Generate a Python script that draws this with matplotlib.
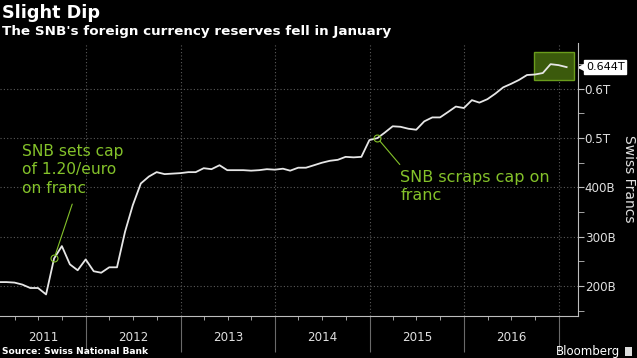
# Slight Dip: SNB foreign currency reserves

import pandas as pd
import matplotlib.pyplot as plt
import matplotlib.dates as mdates
import matplotlib.transforms as mtransforms
from matplotlib.patches import Rectangle

months = pd.date_range('2011-01-31', '2017-01-31', freq='ME')
reserves = [
    208, 208, 207, 203, 196, 196, 183, 256, 281, 244, 232, 254,   # 2011
    230, 227, 238, 238, 310, 364, 408, 422, 431, 427, 428, 429,   # 2012
    431, 431, 439, 437, 445, 435, 435, 435, 434, 435, 437, 436,   # 2013
    438, 434, 440, 440, 445, 450, 454, 456, 462, 461, 462, 496,   # 2014
    500, 511, 524, 523, 519, 517, 534, 542, 542, 553, 564, 561,   # 2015
    577, 572, 579, 590, 603, 610, 618, 628, 629, 632, 650, 648,   # 2016
    644,                                                          # 2017
]
y_ticks = [200, 300, 400, 500, 600]
y_tick_labels = ['200B', '300B', '400B', '0.5T', '0.6T']
years = [2011, 2012, 2013, 2014, 2015, 2016]

GREEN = '#84c22a'
GRID = '#5a5a5a'


def plot():
    fig = plt.figure(figsize=(6.37, 3.58), dpi=100, facecolor='black')
    ax = fig.add_axes([0.0, 0.117, 0.907, 0.763], facecolor='black')

    ax.plot(months, reserves, color='#e6e6e6', lw=1.3, zorder=3)

    x_left = pd.Timestamp('2011-02-03')
    x_right = pd.Timestamp('2017-03-15')
    ax.set_xlim(x_left, x_right)
    ax.set_ylim(139, 693)

    # spines
    for side in ['top', 'left']:
        ax.spines[side].set_visible(False)
    for side in ['right', 'bottom']:
        ax.spines[side].set_color('#bdbdbd')
        ax.spines[side].set_linewidth(0.8)

    # y axis on the right
    ax.yaxis.tick_right()
    ax.set_yticks(y_ticks)
    ax.set_yticklabels(y_tick_labels)
    ax.set_yticks([150, 250, 350, 450, 550, 650], minor=True)
    ax.tick_params(axis='y', which='both', colors='#bdbdbd', length=4,
                   labelcolor='#e0e0e0', labelsize=8.6, pad=1)
    ax.grid(axis='y', which='major', color=GRID, ls=(0, (1, 2)), lw=0.8)

    # x axis: year separators, quarterly minor ticks
    year_starts = [pd.Timestamp(f'{y}-01-01') for y in years[1:] + [2017]]
    ax.set_xticks(year_starts)
    ax.set_xticklabels([])
    quarters = [pd.Timestamp(f'{y}-{m:02d}-01') for y in years + [2017]
                for m in (1, 4, 7, 10)]
    quarters = [q for q in quarters if x_left < q < x_right and q.month != 1]
    ax.set_xticks(quarters, minor=True)
    ax.tick_params(axis='x', which='major', length=26, color='#6a6a6a',
                   width=0.8)
    ax.tick_params(axis='x', which='minor', length=3, color='#bdbdbd')
    ax.grid(axis='x', which='major', color=GRID, ls=(0, (1, 2)), lw=0.8)

    trans = mtransforms.blended_transform_factory(ax.transData, ax.transAxes)
    for y in years:
        start = max(pd.Timestamp(f'{y}-01-01'), x_left)
        end = pd.Timestamp(f'{y + 1}-01-01')
        mid = start + (end - start) / 2
        ax.text(mid, -0.08, str(y), transform=trans, ha='center',
                va='center', color='#e0e0e0', fontsize=8.6)

    # highlight of the latest readings
    x0 = mdates.date2num(pd.Timestamp('2016-09-26'))
    x1 = mdates.date2num(pd.Timestamp('2017-02-27'))
    ax.add_patch(Rectangle((x0, 617), x1 - x0, 58, facecolor='#3b5a0c',
                           edgecolor='#6a9c1c', lw=1.0, zorder=2))

    # last value tag
    trans_y = mtransforms.blended_transform_factory(ax.transAxes, ax.transData)
    ax.text(1.014, reserves[-1], f'{reserves[-1] / 1000:.3f}T',
            transform=trans_y, ha='left', va='center', color='black',
            fontsize=8, clip_on=False,
            bbox=dict(boxstyle='square,pad=0.15', facecolor='white',
                      edgecolor='white'))
    ax.plot([1.008], [reserves[-1]], marker='<', color='white', ms=6,
            transform=trans_y, clip_on=False)

    # annotations
    i_cap = 7
    ax.plot(months[i_cap], reserves[i_cap], marker='o', ms=5, mfc='none',
            mec=GREEN, mew=0.8, zorder=4)
    ax.annotate('', xy=(months[i_cap], reserves[i_cap]),
                xytext=(0.125, 0.41), textcoords='axes fraction',
                arrowprops=dict(arrowstyle='-', color=GREEN, lw=0.8,
                                shrinkA=0, shrinkB=3))
    ax.text(0.038, 0.63, 'SNB sets cap\nof 1.20/euro\non franc',
            transform=ax.transAxes, ha='left', va='top', color=GREEN,
            fontsize=11.2, linespacing=1.28)

    i_scrap = 48
    ax.plot(months[i_scrap], reserves[i_scrap], marker='o', ms=5,
            mfc='none', mec=GREEN, mew=0.8, zorder=4)
    ax.annotate('', xy=(months[i_scrap], reserves[i_scrap]),
                xytext=(0.692, 0.555), textcoords='axes fraction',
                arrowprops=dict(arrowstyle='-', color=GREEN, lw=0.8,
                                shrinkA=0, shrinkB=3))
    ax.text(0.693, 0.535, 'SNB scraps cap on\nfranc',
            transform=ax.transAxes, ha='left', va='top', color=GREEN,
            fontsize=11.5, linespacing=1.25)

    # titles and footer
    fig.text(0.003, 0.965, 'Slight Dip', color='white', fontsize=12.7,
             fontweight='bold', ha='left', va='center')
    fig.text(0.003, 0.912, "The SNB's foreign currency reserves fell in January",
             color='white', fontsize=9.7, fontweight='bold', ha='left',
             va='center')
    fig.text(0.987, 0.5, 'Swiss Francs', color='#e0e0e0', fontsize=10,
             rotation=270, ha='center', va='center')
    fig.text(0.003, 0.017, 'Source: Swiss National Bank', color='white',
             fontsize=6.6, fontweight='bold', ha='left', va='center')
    fig.text(0.973, 0.017, 'Bloomberg', color='white', fontsize=8.5,
             ha='right', va='center')
    fig.patches.append(Rectangle((0.981, 0.006), 0.011, 0.024,
                                 transform=fig.transFigure,
                                 facecolor='#dddddd', edgecolor='none'))

    fig.savefig('out.png', dpi=100, facecolor='black')


plot()
